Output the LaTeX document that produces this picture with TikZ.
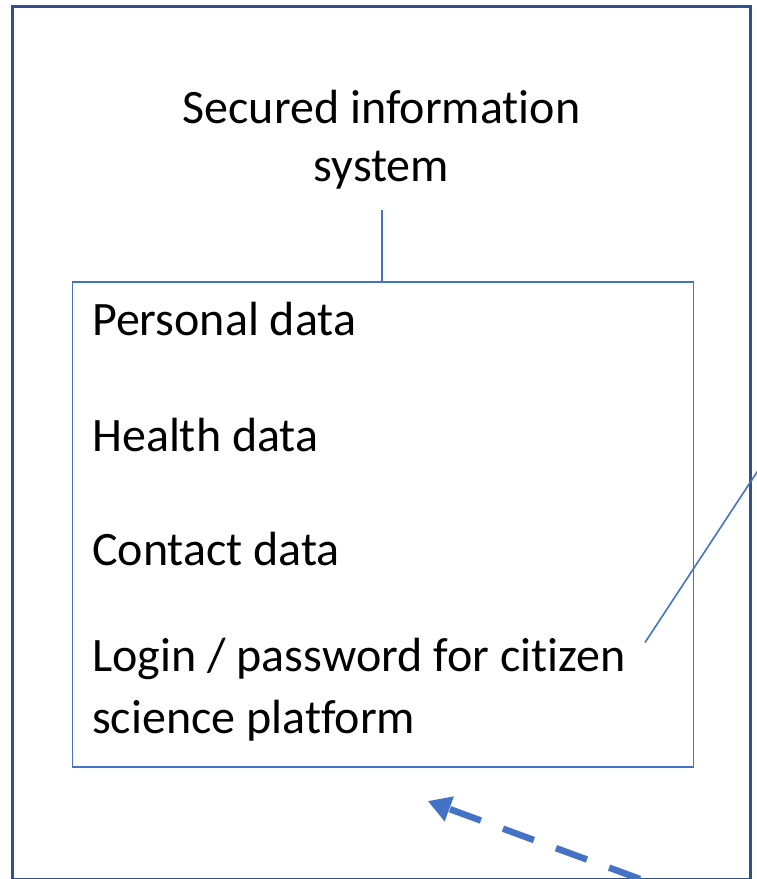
\documentclass[tikz,border=0pt]{standalone}
\usepackage{fontspec}
\setmainfont{Carlito}[Ligatures={NoCommon}]
\usetikzlibrary{arrows.meta}
\definecolor{outerblue}{HTML}{2F528F}
\definecolor{accent}{HTML}{4472C4}
\tikzset{
  label/.style={inner sep=0pt, font=\fontsize{48}{58.5}\selectfont, text=black},
  outerbox/.style={draw=outerblue, line width=3pt},
  innerbox/.style={draw=accent, line width=1.8pt},
  thinline/.style={draw=accent, line width=1.6pt},
  dasharrow/.style={draw=accent, line width=6.5pt, dash pattern=on 33pt off 23.5pt,
    -{Triangle[length=23pt,width=25pt]}}
}
\begin{document}
\begin{tikzpicture}[x=1pt,y=-1pt]
\useasboundingbox (0,0) rectangle (756,879);
\node[outerbox, minimum width=738pt, minimum height=872.5pt, anchor=north west, inner sep=0pt] (outer) at (11,5) {};
\node[innerbox, minimum width=621pt, minimum height=485pt, anchor=north west, inner sep=0pt] (inner) at (71.5,281) {};
\node[label, align=center, anchor=base] (title1) at (381.5,123) {Secured information};
\node[label, align=center, anchor=base] (title2) at (381.5,181.7) {system};
\node[label, anchor=base west] (personal) at (92,335.7) {Personal data};
\node[label, anchor=base west] (health) at (92,451.7) {Health data};
\node[label, anchor=base west] (contact) at (92,565.5) {Contact data};
\node[label, anchor=base west] (login) at (92,671.7) {Login / password for citizen};
\node[label, anchor=base west] (science) at (92,733) {science platform};
\coordinate (tstart) at (381.7,209.5);
\draw[thinline] (tstart) -- (tstart |- inner.north);
\coordinate (lstart) at (645,642.5);
\coordinate (lend) at (760,467.5);
\draw[thinline] (lstart) -- (lend);
\coordinate (atail) at (640,879);
\coordinate (atip) at (427.7,801);
\draw[dasharrow] (atail) -- (atip);
\end{tikzpicture}
\end{document}
